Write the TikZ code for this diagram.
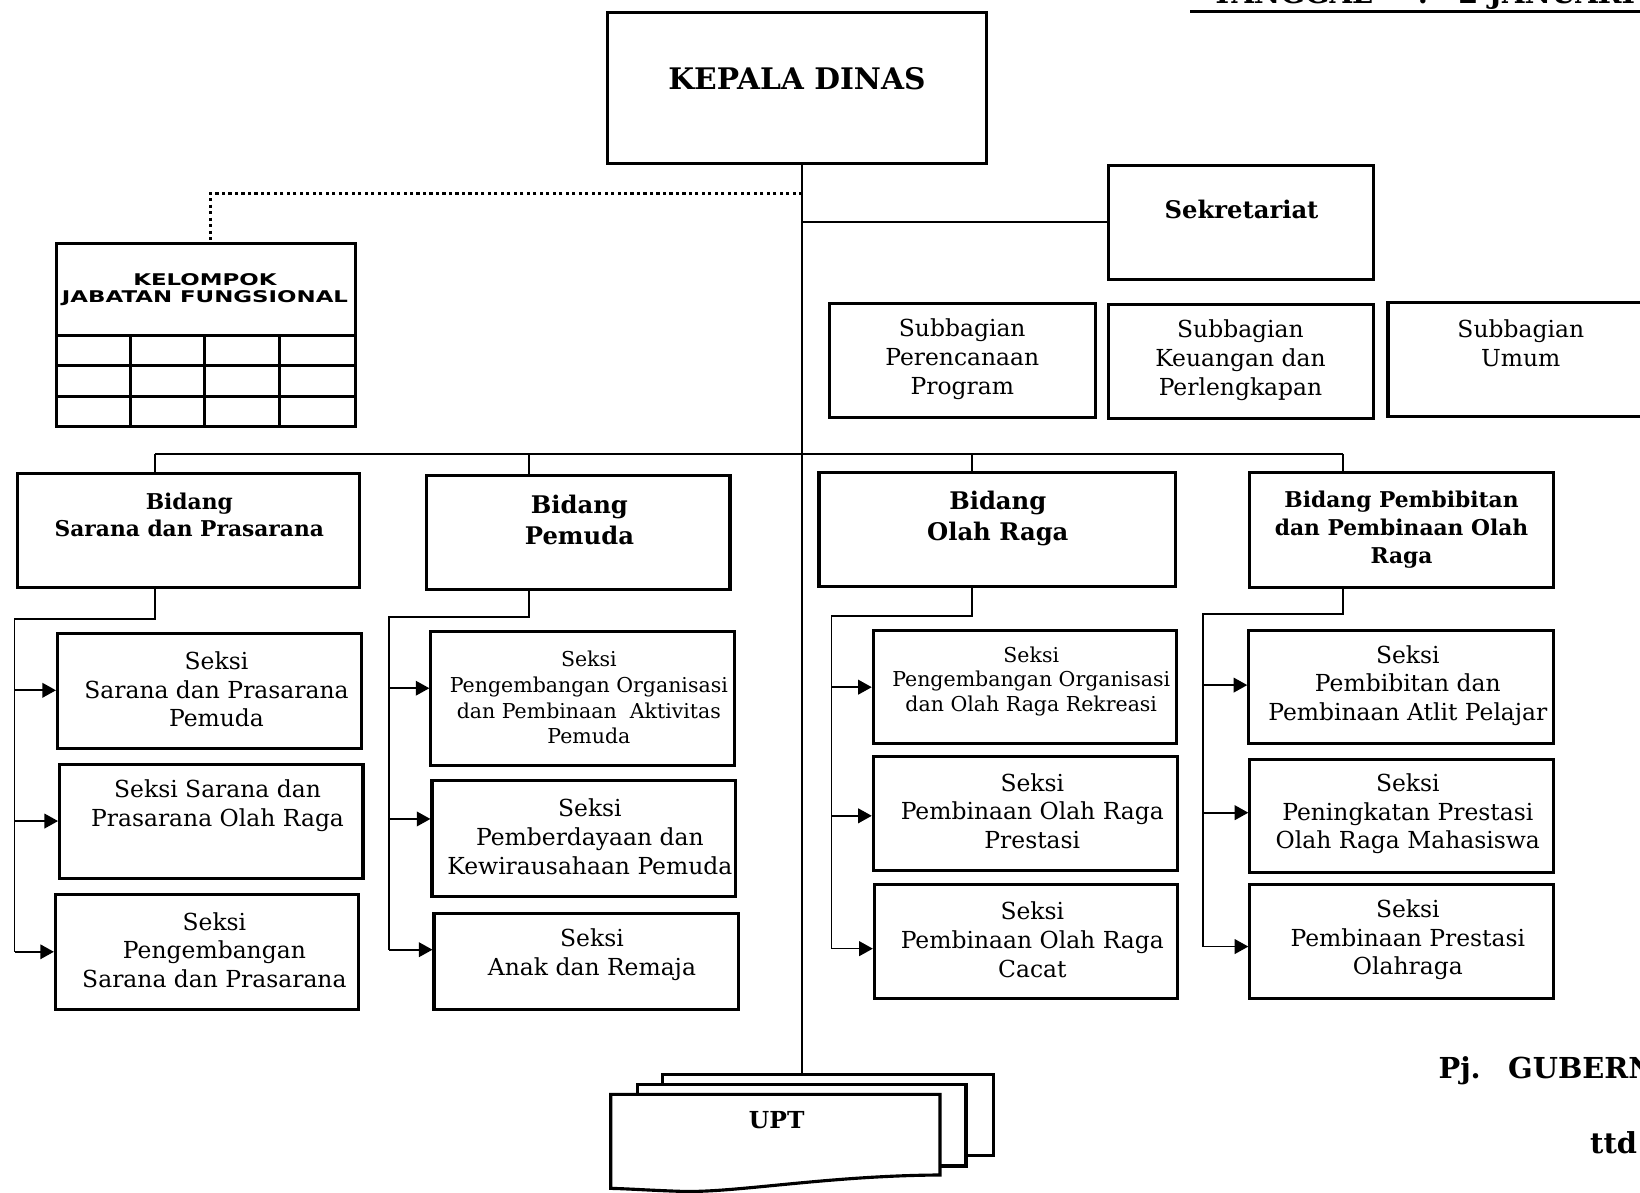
\documentclass[tikz,border=0pt]{standalone}
\usepackage{fontspec}
\setmainfont{DejaVu Serif}
\newfontfamily\kfont{DejaVu Sans}
\usetikzlibrary{arrows.meta}
\newcommand\mybox[5]{\node[box,minimum width={(#4-#2)*0.5pt},minimum height={(#5-#3)*0.5pt}] (#1) at ({(#2+#4)/2},{(#3+#5)/2}) {};}
\tikzset{
 box/.style={draw, line width=1.5pt, inner sep=0pt, fill=white},
 ln/.style={line width=0.8pt},
 dotln/.style={line width=1.5pt, dash pattern=on 1.5pt off 1.6pt},
 arr/.style={line width=0.8pt, -{Triangle[length=6.5pt,width=7pt]}},
 reg/.style={align=center, inner sep=0pt, font=\fontsize{11.2}{13.75}\selectfont},
 sml/.style={align=center, inner sep=0pt, font=\fontsize{9.8}{12.3}\selectfont},
 bsm/.style={align=center, inner sep=0pt, font=\bfseries\fontsize{10.4}{12.9}\selectfont},
 blg/.style={align=center, inner sep=0pt, font=\bfseries\fontsize{11.6}{14.75}\selectfont},
 big/.style={inner sep=0pt, font=\bfseries\fontsize{13.8}{18}\selectfont},
}
\begin{document}
\begin{tikzpicture}[x=0.5pt,y=-0.5pt]
\useasboundingbox (0,0) rectangle (1568,1140);
\clip (0,0) rectangle (1568,1140);
% header remnant
\node[big,anchor=base west] (tg1) at (1158,3) {TANGGAL};
\node[big,anchor=base west] (tg2) at (1355,3) {:};
\node[big,anchor=base west] (tg3) at (1394,3) {2 JANUARI};
\draw[line width=1.4pt] (1138,11) -- (1568,11);
% coordinates
\coordinate (cx) at (767,434);
\coordinate (dj) at (767,185);
\coordinate (dk) at (201,185);
\coordinate (d1) at (148,434);
\coordinate (d2) at (506,434);
\coordinate (d3) at (929,434);
\coordinate (d4) at (1284,434);
\coordinate (t1) at (14,592);
\coordinate (t2) at (372,590);
\coordinate (t3) at (795,589);
\coordinate (t4) at (1150,587);
\coordinate (a11) at (14,660);
\coordinate (a12) at (14,785);
\coordinate (a13) at (14,910);
\coordinate (a21) at (372,658);
\coordinate (a22) at (372,783);
\coordinate (a23) at (372,908);
\coordinate (a31) at (795,657);
\coordinate (a32) at (795,780);
\coordinate (a33) at (795,907);
\coordinate (a41) at (1150,655);
\coordinate (a42) at (1150,777);
\coordinate (a43) at (1150,905);
% boxes
\mybox{kd}{581}{12}{943}{156}
\mybox{sek}{1060}{158}{1313}{267}
\mybox{kjf}{54}{233}{340}{408}
\mybox{sp}{793}{290}{1047}{399}
\mybox{sk}{1060}{291}{1313}{400}
\mybox{su}{1327}{289}{1590}{398}
\mybox{b1}{17}{453}{344}{562}
\mybox{b2}{408}{455}{698}{564}
\mybox{b3}{783}{452}{1124}{561}
\mybox{b4}{1195}{452}{1485}{562}
\mybox{s11}{55}{606}{346}{716}
\mybox{s12}{57}{731}{347}{840}
\mybox{s13}{53}{855}{343}{965}
\mybox{s21}{412}{604}{702}{732}
\mybox{s22}{413}{746}{703}{857}
\mybox{s23}{415}{873}{706}{965}
\mybox{s31}{835}{603}{1125}{711}
\mybox{s32}{835}{723}{1126}{832}
\mybox{s33}{836}{846}{1126}{955}
\mybox{s41}{1194}{603}{1485}{711}
\mybox{s42}{1195}{726}{1485}{834}
\mybox{s43}{1195}{846}{1485}{955}
% UPT stack
\mybox{upt3}{633.6}{1027}{949.7}{1104.6}
\mybox{upt2}{609.3}{1036.5}{923.6}{1114.8}
\draw[line width=1.5pt, fill=white] (583.9,1046.3) -- (898.7,1046.3) -- (898.7,1123.4)
  .. controls (790,1124) and (700,1141) .. (650,1139)
  .. controls (620,1138) and (600,1136.5) .. (583.9,1136.2) -- cycle;
% kelompok grid
\draw[line width=1.5pt] (54,320.5) -- (340,320.5) (54,349.5) -- (340,349.5) (54,379) -- (340,379)
  (124.5,320.5) -- (124.5,408) (195.5,320.5) -- (195.5,408) (267,320.5) -- (267,408);
% connectors
\draw[ln] (kd.south -| cx) -- (upt3.north -| cx);
\draw[ln] (sek.west) -- (sek.west -| cx);
\draw[dotln] (dj) -- (dk) -- (dk |- kjf.north);
\draw[ln] (d1) -- (d4);
\draw[ln] (d1) -- (d1 |- b1.north);
\draw[ln] (d2) -- (d2 |- b2.north);
\draw[ln] (d3) -- (d3 |- b3.north);
\draw[ln] (d4) -- (d4 |- b4.north);
\draw[ln] (b1.south -| d1) |- (t1) -- (a13);
\draw[ln] (b2.south -| d2) |- (t2) -- (a23);
\draw[ln] (b3.south -| d3) |- (t3) -- (a33);
\draw[ln] (b4.south -| d4) |- (t4) -- (a43);
\foreach \c/\s in {a11/s11,a12/s12,a13/s13,a21/s21,a22/s22,a23/s23,a31/s31,a32/s32,a33/s33,a41/s41,a42/s42,a43/s43}
  \draw[arr] (\c) -- (\c -| \s.west);
% texts
\node[big, font=\bfseries\fontsize{14.2}{18}\selectfont] (kdt) at (762,75) {KEPALA DINAS};
\node[blg] (sekt) at (1187,200) {Sekretariat};
\node[align=center, inner sep=0pt, font=\kfont\bfseries\fontsize{7.7}{7.9}\selectfont] (kjft) at (196,277)
  {\scalebox{1.42}[1]{KELOMPOK}\\\scalebox{1.42}[1]{JABATAN FUNGSIONAL}};
\node[reg] (spt) at (920,343.5) {Subbagian\\Perencanaan\\Program};
\node[reg] (skt) at (1186,344.5) {Subbagian\\Keuangan dan\\Perlengkapan};
\node[reg] (sut) at (1454,328.5) {Subbagian\\Umum};
\node[bsm] (b1t) at (181,492.5) {Bidang\\Sarana dan Prasarana};
\node[blg] (b2t) at (554,497) {Bidang\\Pemuda};
\node[blg] (b3t) at (954,495.5) {Bidang\\Olah Raga};
\node[bsm, font=\bfseries\fontsize{10.4}{13.25}\selectfont] (b4t) at (1340,506.5) {Bidang Pembibitan\\dan Pembinaan Olah\\Raga};
\node[reg] (s11t) at (207,659) {Seksi\\Sarana dan Prasarana\\Pemuda};
\node[reg] (s12t) at (208,770.5) {Seksi Sarana dan\\Prasarana Olah Raga};
\node[reg] (s13t) at (205,908.5) {Seksi\\Pengembangan\\Sarana dan Prasarana};
\node[sml] (s21t) at (563,667) {Seksi\\Pengembangan Organisasi\\dan Pembinaan\ \ Aktivitas\\Pemuda};
\node[reg] (s22t) at (564,800) {Seksi\\Pemberdayaan dan\\Kewirausahaan Pemuda};
\node[reg] (s23t) at (566,912.5) {Seksi\\Anak dan Remaja};
\node[sml, font=\fontsize{9.8}{11.8}\selectfont] (s31t) at (986,651.5) {Seksi\\Pengembangan Organisasi\\dan Olah Raga Rekreasi};
\node[reg] (s32t) at (987,775.5) {Seksi\\Pembinaan Olah Raga\\Prestasi};
\node[reg] (s33t) at (987,898.5) {Seksi\\Pembinaan Olah Raga\\Cacat};
\node[reg] (s41t) at (1346,655.5) {Seksi\\Pembibitan dan\\Pembinaan Atlit Pelajar};
\node[reg] (s42t) at (1346,778) {Seksi\\Peningkatan Prestasi\\Olah Raga Mahasiswa};
\node[reg] (s43t) at (1346,898.5) {Seksi\\Pembinaan Prestasi\\Olahraga};
\node[inner sep=0pt, font=\bfseries\fontsize{11.2}{14}\selectfont] (uptt) at (742.6,1071) {UPT};
\node[big, anchor=base west] (pj) at (1375,1031) {Pj.\hspace{0.95em}GUBERN};
\node[big, anchor=base west] (ttd) at (1520,1102.6) {ttd};
\end{tikzpicture}
\end{document}
